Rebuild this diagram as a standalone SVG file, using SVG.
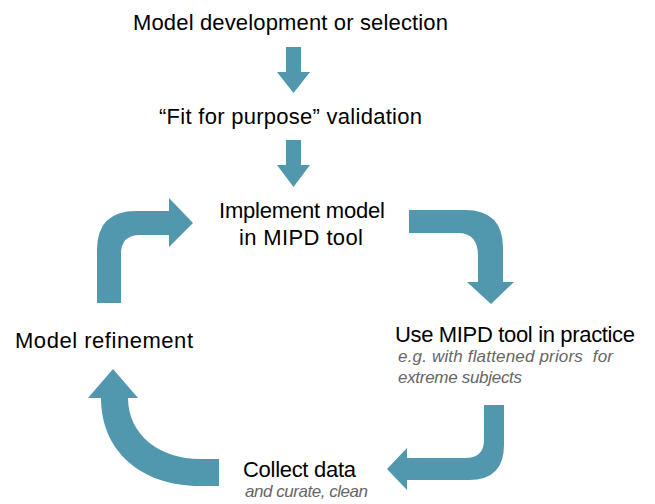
<svg xmlns="http://www.w3.org/2000/svg" width="655" height="504" viewBox="0 0 655 504">
<style>
.t{font-family:"Liberation Sans",Arial,sans-serif;font-size:22px;fill:#000;}
.s{font-family:"Liberation Sans",Arial,sans-serif;font-size:17px;font-style:italic;fill:#666;white-space:pre;}
.a{fill:#5197ad;}
</style>
<rect width="655" height="504" fill="#fff"/>
<g id="connectors">
<path class="a" d="M286,47 H301 V72 H310 L293.5,93 L277,72 H286 Z"/>
<path class="a" d="M286,140 H301 V165 H310 L293.5,187 L277,165 H286 Z"/>
<path class="a" d="M97,303 V250 Q97,211 136,211 H169 V198 L193,223 L169,247 V235 H140 Q121,235 121,254 V303 Z"/>
<path class="a" d="M409,210 H465 Q503,210 503,248 V282 H514 L491,304 L467,282 H478 V256 Q478,233 458,233 H409 Z"/>
<path class="a" d="M504,405 V445 Q504,480 469,480 H407 V490 L387,469 L407,448 V458 H465 Q484,458 484,440 V405 Z"/>
<path class="a" d="M219,486 H200 C140,486 101,450 101,398 H88 L113,369 L138,398 H128 C128,435 160,459 200,459 H219 Z"/>
</g>
<g id="n1"><text class="t" x="133" y="30" textLength="315" lengthAdjust="spacing">Model development or selection</text></g>
<g id="n2"><text class="t" x="159" y="124" textLength="263" lengthAdjust="spacing">“Fit for purpose” validation</text></g>
<g id="n3"><text class="t" x="219" y="218" textLength="166" lengthAdjust="spacing">Implement model</text><text class="t" x="239" y="245" textLength="124" lengthAdjust="spacing">in MIPD tool</text></g>
<g id="n4"><text class="t" x="395" y="342" textLength="240" lengthAdjust="spacing">Use MIPD tool in practice</text><text class="s" x="398" y="362" textLength="215" lengthAdjust="spacing">e.g. with flattened priors  for</text><text class="s" x="398" y="383" textLength="124" lengthAdjust="spacing">extreme subjects</text></g>
<g id="n5"><text class="t" x="243" y="477" textLength="113" lengthAdjust="spacing">Collect data</text><text class="s" x="245" y="497" textLength="123" lengthAdjust="spacing">and curate, clean</text></g>
<g id="n6"><text class="t" x="15" y="348" textLength="178" lengthAdjust="spacing">Model refinement</text></g>
</svg>
